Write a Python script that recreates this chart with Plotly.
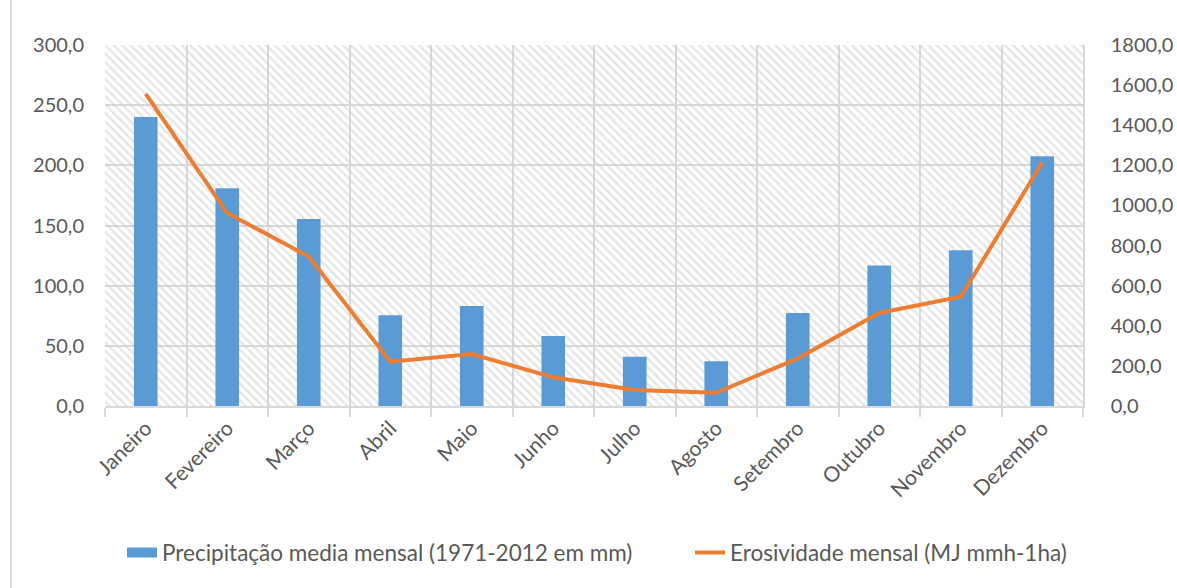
import plotly.graph_objects as go

meses = ["Janeiro", "Fevereiro", "Março", "Abril", "Maio", "Junho", "Julho",
         "Agosto", "Setembro", "Outubro", "Novembro", "Dezembro"]
precipitacao = [240.2, 181.0, 155.3, 75.4, 83.0, 58.2, 41.0, 37.1, 77.3, 116.8, 129.5, 207.6]
erosividade = [1556, 962, 745, 221, 259, 143, 80, 66, 237, 464, 545, 1214]

nome_precip = "Precipitação media mensal (1971-2012 em mm)"
nome_eros = "Erosividade mensal (MJ mmh-1ha)"

y_max = 300
y2_max = 1800

FONT = "Lato"
GRID = "#d9d9d9"
TXT = "#595959"
AZUL = "#5B9BD5"
LARANJA = "#ED7D31"

fig = go.Figure()

# hatched plot-area background
fig.add_trace(go.Bar(
    x=meses, y=[y_max] * len(meses), width=1.0, showlegend=False, hoverinfo="skip",
    marker=dict(color="rgba(0,0,0,0)", line=dict(width=0),
                pattern=dict(shape="\\", fgcolor="#cccccc", bgcolor="rgba(0,0,0,0)",
                             size=6, solidity=0.4, fillmode="overlay")),
))

fig.add_trace(go.Bar(
    x=meses, y=precipitacao, name=nome_precip, width=0.29, showlegend=False,
    marker=dict(color=AZUL, line=dict(width=0)),
))

fig.add_trace(go.Scatter(
    x=meses, y=erosividade, name=nome_eros, yaxis="y2", mode="lines",
    line=dict(color=LARANJA, width=4), legend="legend2",
))

# legend-only entry with a wide rectangular swatch for the bars
fig.add_trace(go.Scatter(
    x=[None], y=[None], name=nome_precip, mode="lines",
    line=dict(color=AZUL, width=14), legend="legend",
))

PW = 1177 - 105 - 94

fig.update_layout(
    width=1177, height=588,
    margin=dict(l=105, r=94, t=45, b=182, autoexpand=False),
    paper_bgcolor="white", plot_bgcolor="white",
    barmode="overlay",
    separators=",.",
    font=dict(family=FONT, size=20, color=TXT),
    xaxis=dict(
        type="category", tickson="boundaries", ticks="outside", ticklen=9,
        tickcolor=GRID, tickwidth=1.5, showgrid=True, gridcolor=GRID, gridwidth=1.5,
        showline=True, linecolor=GRID, linewidth=1.5, tickangle=-45,
        tickfont=dict(family=FONT, size=21, color=TXT),
    ),
    yaxis=dict(
        range=[0, y_max], dtick=50, tickformat=".1f", showgrid=True,
        gridcolor=GRID, gridwidth=1.5, zeroline=False, showline=False,
        ticks="", ticklabelstandoff=20,
        tickfont=dict(family=FONT, size=20, color=TXT),
    ),
    yaxis2=dict(
        range=[0, y2_max], dtick=200, tickformat=".1f", overlaying="y", side="right",
        showgrid=False, zeroline=False, showline=True, linecolor=GRID, linewidth=1.5,
        ticks="", ticklabelstandoff=22,
        tickfont=dict(family=FONT, size=20, color=TXT),
    ),
    legend=dict(
        orientation="h", x=(122 - 105) / PW, xanchor="left", y=-0.407, yanchor="middle",
        font=dict(family=FONT, size=22.5, color=TXT), bgcolor="rgba(0,0,0,0)",
    ),
    legend2=dict(
        orientation="h", x=(690 - 105) / PW, xanchor="left", y=-0.407, yanchor="middle",
        font=dict(family=FONT, size=22.5, color=TXT), bgcolor="rgba(0,0,0,0)",
    ),
    shapes=[dict(type="line", xref="paper", yref="paper",
                 x0=(11 - 105) / PW, x1=(11 - 105) / PW, y0=-0.51, y1=1.13,
                 line=dict(color=GRID, width=2))],
)

fig.write_html(
    "out.html",
    config={"displayModeBar": False},
    post_script="document.body.style.margin='0';document.body.style.overflow='hidden';",
)
